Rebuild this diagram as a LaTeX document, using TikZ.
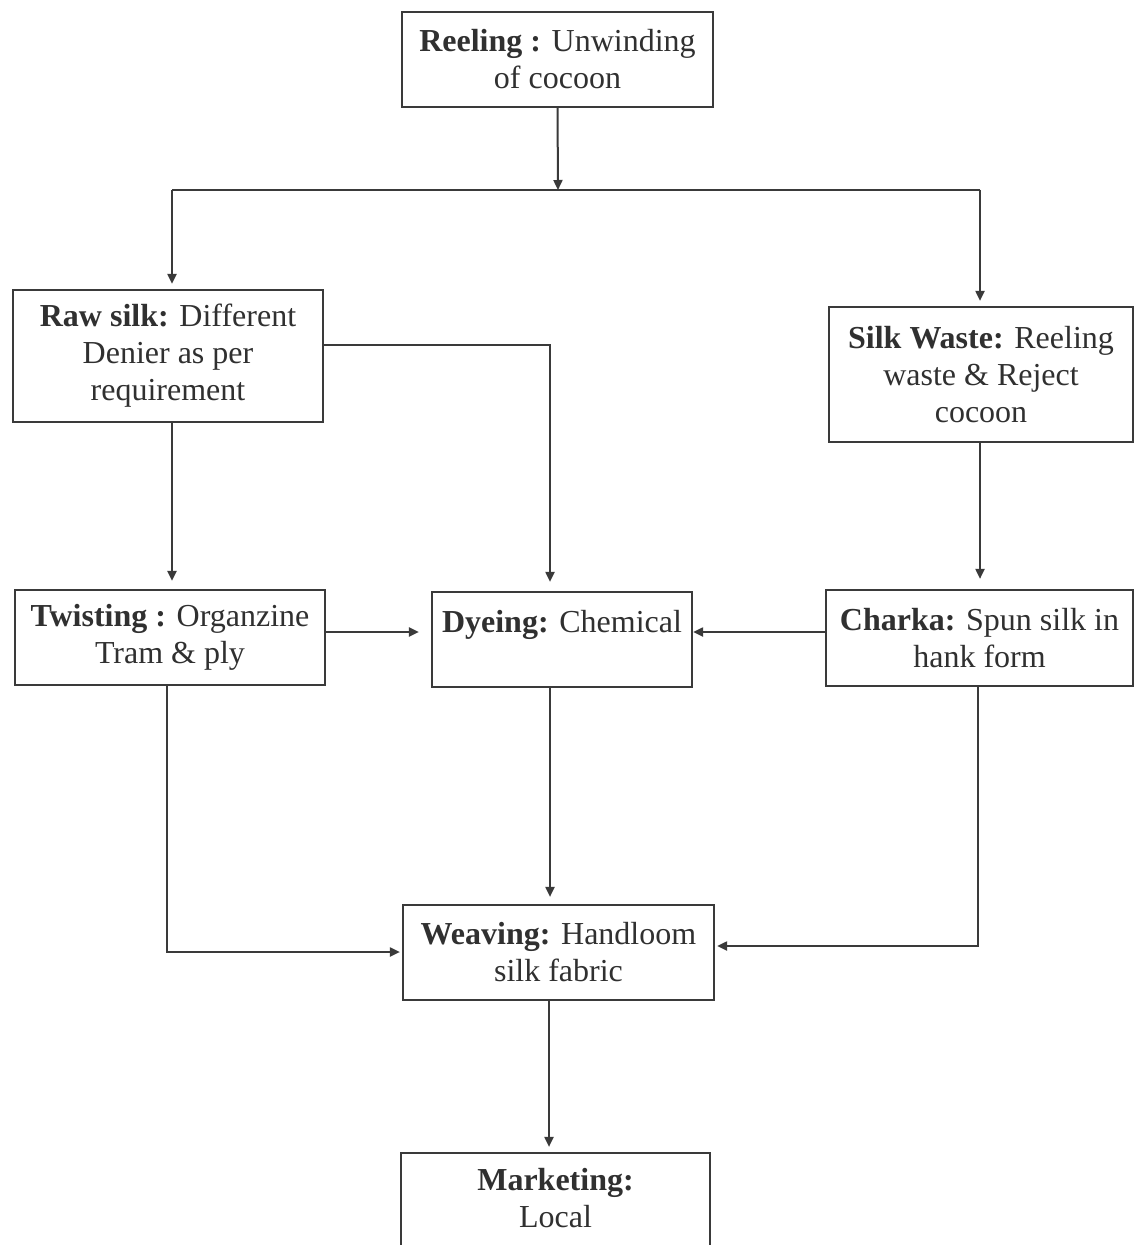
\documentclass[tikz,border=0pt]{standalone}
\usepackage{fontspec}
\setmainfont{Liberation Serif}
\usetikzlibrary{arrows.meta,calc}
\definecolor{ink}{HTML}{3A3A3A}
\definecolor{txt}{HTML}{303030}
\tikzset{
  box/.style={draw=ink, line width=1.1pt, rectangle, inner sep=0pt, align=center,
    text=txt, font=\fontsize{16}{18.5}\selectfont},
  txtonly/.style={inner sep=0pt, align=center, text=txt, font=\fontsize{16}{18.5}\selectfont},
  conn/.style={draw=ink, line width=1pt},
  arr/.style={conn, -{Triangle[length=5pt,width=4.5pt]}, shorten >=3.5pt},
}
\begin{document}
\begin{tikzpicture}[x=0.5pt,y=-0.5pt]
\clip (0,0) rectangle (1135,1245);
\fill[white] (0,0) rectangle (1135,1245);

% boxes
\node[box, minimum width=155.5pt, minimum height=47.5pt] (reel) at (557.5,59.5) {\textbf{Reeling :} Unwinding\\of cocoon};
\node[box, minimum width=155pt, minimum height=66pt] (raw) at (168,356) {\textbf{Raw silk:} Different\\Denier as per\\requirement};
\node[box, minimum width=152pt, minimum height=67.5pt] (waste) at (981,374.5) {\textbf{Silk Waste:} Reeling\\waste \& Reject\\cocoon};
\node[box, minimum width=155pt, minimum height=47.5pt] (twist) at (170,637.5) {\textbf{Twisting :} Organzine\\Tram \& ply};
\node[box, minimum width=130pt, minimum height=47.5pt] (dye) at (562,639.5) {\textbf{Dyeing:} Chemical\\\mbox{}};
\node[box, minimum width=153.5pt, minimum height=48pt] (charka) at (979.5,638) {\textbf{Charka:} Spun silk in\\hank form};
\node[box, minimum width=155.5pt, minimum height=47.5pt] (weave) at (558.5,952.5) {\textbf{Weaving:} Handloom\\silk fabric};
\node[box, minimum width=154.5pt, minimum height=73.5pt] (mkt) at (555.5,1226.5) {};
\node[txtonly] (mkttext) at (555.5,1198.5) {\textbf{Marketing:}\\Local};

% connectors
\coordinate (split) at (558,190);
\coordinate (splitL) at (172,190);
\coordinate (splitR) at (980,190);
\draw[arr, shorten >=0pt] (reel.south) -- (split);
\draw[conn] (splitL) -- (splitR);
\draw[arr, shorten >=2.5pt] (splitL) -- (splitL |- raw.north);
\draw[arr, shorten >=2.5pt] (splitR) -- (splitR |- waste.north);

\coordinate (rd) at (550,345);
\draw[arr, shorten >=4.5pt] (raw.east |- rd) -- (rd) -- (rd |- dye.north);
\draw[arr, shorten >=4pt] (splitL |- raw.south) -- (splitL |- twist.north);
\draw[arr, shorten >=5pt] (splitR |- waste.south) -- (splitR |- charka.north);

\draw[arr, shorten >=6pt] (twist.east |- 0,632) -- (dye.west |- 0,632);
\draw[arr, shorten >=0pt] (charka.west |- 0,632) -- (dye.east |- 0,632);

\draw[arr, shorten >=3.5pt] (rd |- dye.south) -- (rd |- weave.north);

\coordinate (tw) at (167,952);
\coordinate (ch) at (978,946);
\draw[arr, shorten >=1pt] (tw |- twist.south) -- (tw) -- (weave.west |- tw);
\draw[arr, shorten >=1pt] (ch |- charka.south) -- (ch) -- (weave.east |- ch);

\coordinate (wm) at (549,1000);
\draw[arr, shorten >=2.5pt] (wm |- weave.south) -- (wm |- mkt.north);
\end{tikzpicture}
\end{document}
